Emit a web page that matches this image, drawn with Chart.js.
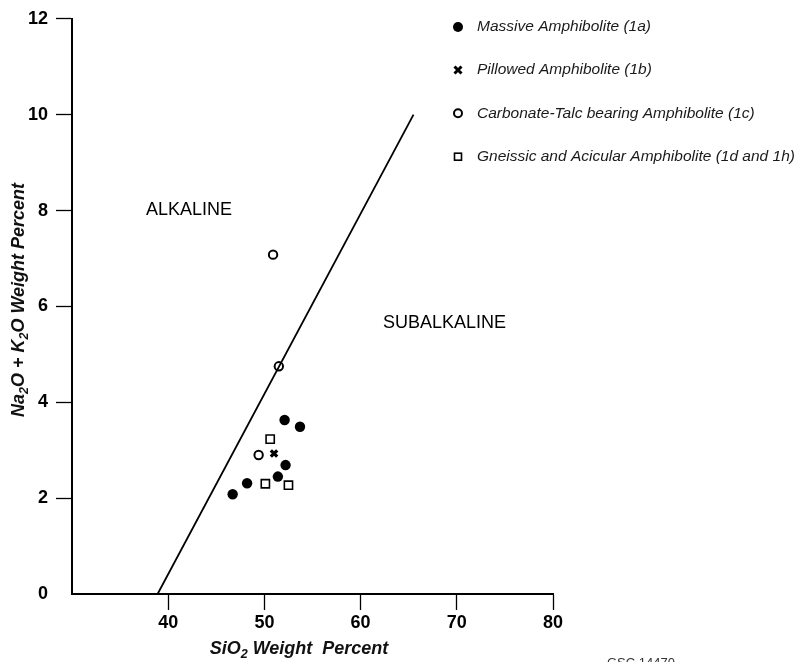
<!DOCTYPE html>
<html><head><meta charset="utf-8">
<script src="https://cdn.jsdelivr.net/npm/chart.js@4/dist/chart.umd.min.js"></script>
<style>html,body{margin:0;padding:0;background:#fff}#wrap{width:797px;height:662px}</style>
</head><body><div id="wrap"><canvas id="c" width="797" height="662"></canvas></div>
<script>
// ---- data ----
const xTicks = [40, 50, 60, 70, 80];
const yTicks = [0, 2, 4, 6, 8, 10, 12];
const seriesNames = [
  'Massive Amphibolite (1a)',
  'Pillowed Amphibolite (1b)',
  'Carbonate-Talc bearing Amphibolite (1c)',
  'Gneissic and Acicular Amphibolite (1d and 1h)'
];
const massiveSiO2 = [46.7, 48.2, 51.4, 52.2, 52.1, 53.7];
const massiveAlk  = [2.08, 2.31, 2.45, 2.69, 3.63, 3.49];
const pillowedSiO2 = [51.0];
const pillowedAlk  = [2.93];
const carbonateSiO2 = [49.4, 50.9, 51.5];
const carbonateAlk  = [2.90, 7.08, 4.75];
const gneissicSiO2 = [50.6, 50.1, 52.5];
const gneissicAlk  = [3.23, 2.30, 2.27];
const boundarySiO2 = [38.9, 65.5];
const boundaryAlk  = [0, 10];

const pts = (xs, ys) => xs.map((x, i) => ({x: x, y: ys[i]}));
const FONT = "'Liberation Sans', Arial, Helvetica, sans-serif";

function richText(ctx, parts, x, y, size, style, align) {
  // parts: [text, isSub]
  const measure = p => { ctx.font = style + ' ' + (p[1] ? size * 0.7 : size) + 'px ' + FONT; return ctx.measureText(p[0]).width; };
  let total = 0; parts.forEach(p => total += measure(p));
  let cx = align === 'center' ? x - total / 2 : x;
  ctx.textBaseline = 'alphabetic'; ctx.textAlign = 'left';
  parts.forEach(p => {
    const w = measure(p);
    ctx.fillText(p[0], cx, p[1] ? y + size * 0.22 : y);
    cx += w;
  });
}

const annot = {
  id: 'annot',
  afterDraw(chart) {
    const ctx = chart.ctx;
    ctx.save();
    ctx.fillStyle = '#000'; ctx.strokeStyle = '#000';
    // region labels
    ctx.font = '18px ' + FONT; ctx.textBaseline = 'middle'; ctx.textAlign = 'left';
    ctx.fillText('ALKALINE', 146, 210);
    ctx.fillText('SUBALKALINE', 383, 323);
    // axis titles
    ctx.fillStyle = '#111';
    richText(ctx, [['SiO', false], ['2', true], [' Weight  Percent', false]], 299, 654, 18, 'italic bold', 'center');
    ctx.save();
    ctx.translate(24, 300); ctx.rotate(-Math.PI / 2);
    richText(ctx, [['Na', false], ['2', true], ['O + K', false], ['2', true], ['O Weight Percent', false]], 0, 0, 18, 'italic bold', 'center');
    ctx.restore();
    // legend
    const lx = 458, tx = 477, rows = [27, 70, 113.3, 156.7];
    ctx.font = 'italic 15.5px ' + FONT; ctx.textBaseline = 'middle'; ctx.textAlign = 'left';
    seriesNames.forEach((n, i) => { ctx.fillStyle = '#1a1a1a'; ctx.fillText(n, tx, rows[i]); });
    ctx.fillStyle = '#000';
    ctx.beginPath(); ctx.arc(lx, rows[0], 5, 0, Math.PI * 2); ctx.fill();
    ctx.lineWidth = 3; ctx.beginPath();
    ctx.moveTo(lx - 3.5, rows[1] - 3.5); ctx.lineTo(lx + 3.5, rows[1] + 3.5);
    ctx.moveTo(lx + 3.5, rows[1] - 3.5); ctx.lineTo(lx - 3.5, rows[1] + 3.5); ctx.stroke();
    ctx.lineWidth = 2; ctx.beginPath(); ctx.arc(lx, rows[2], 4, 0, Math.PI * 2); ctx.stroke();
    ctx.lineWidth = 1.6; ctx.strokeRect(lx - 3.5, rows[3] - 3.5, 7, 7);
    // figure number (cut at bottom)
    ctx.font = '13px ' + FONT; ctx.textBaseline = 'top'; ctx.fillStyle = '#333';
    ctx.fillText('GSC 14470', 607, 657);
    ctx.restore();
  }
};

const axisFont = {family: FONT, size: 18, weight: 'bold'};
new Chart(document.getElementById('c'), {
  type: 'scatter',
  data: {
    datasets: [
      {label: 'boundary', type: 'line', data: pts(boundarySiO2, boundaryAlk), borderColor: '#000', borderWidth: 1.8, pointRadius: 0, fill: false},
      {label: seriesNames[0], data: pts(massiveSiO2, massiveAlk), pointStyle: 'circle', pointRadius: 5.2, backgroundColor: '#000', borderColor: '#000', borderWidth: 0},
      {label: seriesNames[1], data: pts(pillowedSiO2, pillowedAlk), pointStyle: 'crossRot', pointRadius: 4.5, borderColor: '#000', borderWidth: 3.2},
      {label: seriesNames[2], data: pts(carbonateSiO2, carbonateAlk), pointStyle: 'circle', pointRadius: 4.2, backgroundColor: '#fff', borderColor: '#000', borderWidth: 2},
      {label: seriesNames[3], data: pts(gneissicSiO2, gneissicAlk), pointStyle: 'rect', pointRadius: 5.8, backgroundColor: '#fff', borderColor: '#000', borderWidth: 1.6}
    ]
  },
  options: {
    responsive: false, animation: false, devicePixelRatio: 1,
    layout: {padding: {top: 16, right: 244, left: 0, bottom: 0}},
    plugins: {legend: {display: false}, tooltip: {enabled: false}},
    scales: {
      x: {
        type: 'linear', min: 30, max: 80,
        afterBuildTicks: s => { s.ticks = xTicks.map(v => ({value: v})); },
        afterFit: s => { s.height = 68; },
        border: {display: true, color: '#000', width: 2},
        grid: {drawOnChartArea: false, drawTicks: true, tickLength: 16, tickColor: '#000', tickWidth: 1.3},
        ticks: {color: '#000', font: axisFont, padding: 2, maxRotation: 0, autoSkip: false}
      },
      y: {
        type: 'linear', min: 0, max: 12,
        afterBuildTicks: s => { s.ticks = yTicks.map(v => ({value: v})); },
        afterFit: s => { s.width = 72; },
        border: {display: true, color: '#000', width: 2},
        grid: {drawOnChartArea: false, drawTicks: true, tickLength: 16, tickWidth: 1.3,
               tickColor: c => (c.tick && c.tick.value === 0) ? 'rgba(0,0,0,0)' : '#000'},
        ticks: {color: '#000', font: axisFont, padding: 8, autoSkip: false}
      }
    }
  },
  plugins: [annot]
});
</script></body></html>
